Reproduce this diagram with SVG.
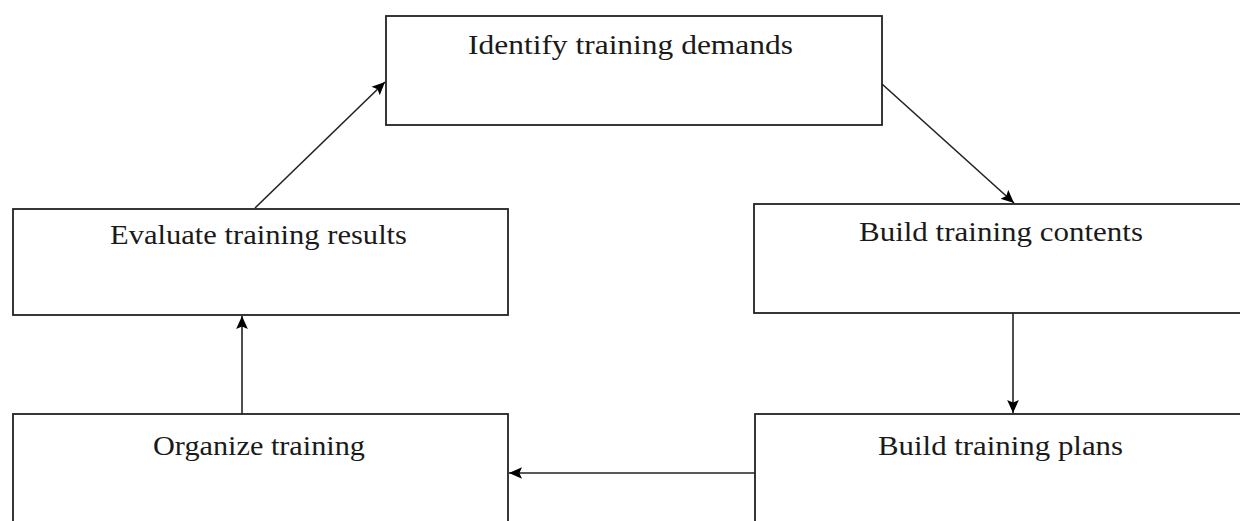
<svg xmlns="http://www.w3.org/2000/svg" width="1240" height="521" viewBox="0 0 1240 521">
<style>
.box{fill:#fff;stroke:#222;stroke-width:1.8}
.lbl{font-family:"Liberation Serif","Times New Roman",serif;font-size:27px;fill:#1a1a1a}
.con{stroke:#222;stroke-width:1.6;fill:none;marker-end:url(#arr)}
</style>
<defs>
<marker id="arr" viewBox="0 0 10 10" refX="10" refY="5" markerWidth="13" markerHeight="13" markerUnits="userSpaceOnUse" orient="auto">
<path d="M0,0.5 L10,5 L0,9.5 L2,5 Z" fill="#000"/>
</marker>
</defs>
<rect width="1240" height="521" fill="#fff"/>
<g id="n-identify"><rect class="box" x="386" y="16" width="496" height="109"/><text class="lbl" x="468" y="54" textLength="325" lengthAdjust="spacingAndGlyphs">Identify training demands</text></g>
<g id="n-evaluate"><rect class="box" x="13" y="209" width="495" height="106"/><text class="lbl" x="110" y="244" textLength="297" lengthAdjust="spacingAndGlyphs">Evaluate training results</text></g>
<g id="n-contents"><rect class="box" x="754" y="204" width="500" height="109"/><text class="lbl" x="859" y="241" textLength="284" lengthAdjust="spacingAndGlyphs">Build training contents</text></g>
<g id="n-organize"><rect class="box" x="13" y="414" width="495" height="120"/><text class="lbl" x="153" y="455" textLength="212" lengthAdjust="spacingAndGlyphs">Organize training</text></g>
<g id="n-plans"><rect class="box" x="755" y="414" width="500" height="120"/><text class="lbl" x="878" y="455" textLength="245" lengthAdjust="spacingAndGlyphs">Build training plans</text></g>
<g id="connectors">
<line class="con" x1="255" y1="208" x2="385" y2="82"/>
<line class="con" x1="882" y1="84" x2="1014" y2="203"/>
<line class="con" x1="1013" y1="313" x2="1013" y2="413"/>
<line class="con" x1="755" y1="473" x2="509" y2="473"/>
<line class="con" x1="242" y1="414" x2="242" y2="316"/>
</g>
</svg>
